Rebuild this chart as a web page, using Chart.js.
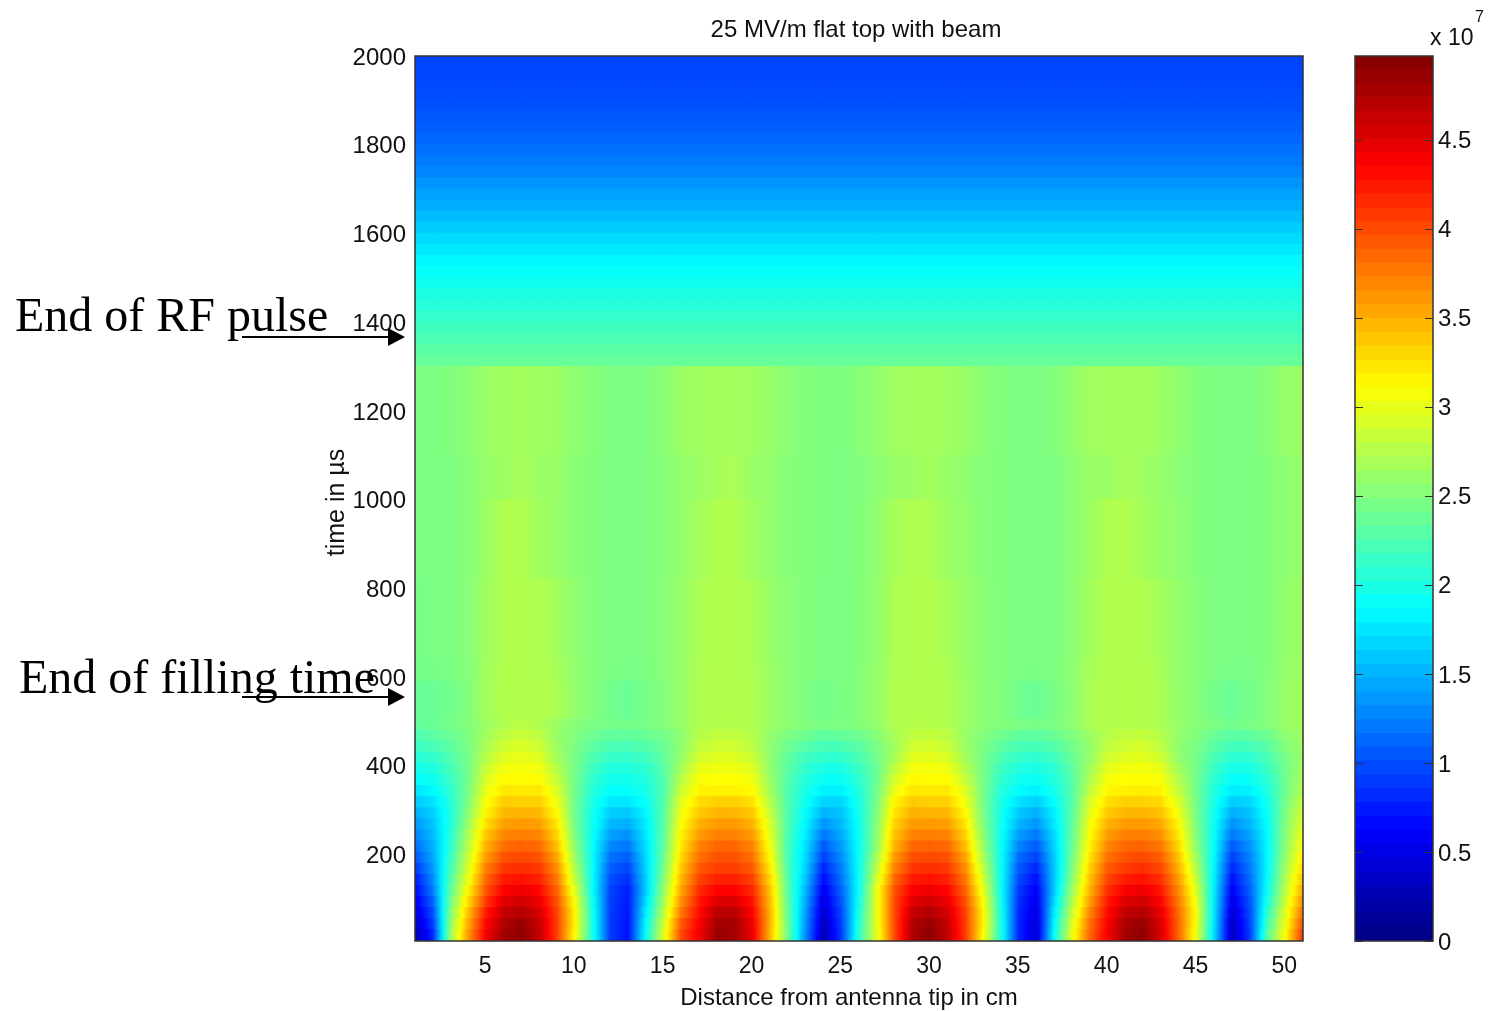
<!DOCTYPE html>
<html>
<head>
<meta charset="utf-8">
<title>25 MV/m flat top with beam</title>
<script src="https://cdn.jsdelivr.net/npm/chart.js@4"></script>
<style>
html,body{margin:0;padding:0;background:#fff;width:1488px;height:1011px;overflow:hidden}
canvas{position:absolute;top:0}
#main{left:0}
#bar{left:1340px}
.note{position:absolute;font-family:"Liberation Serif",serif;font-size:48px;line-height:50px;color:#000;white-space:nowrap}
.exp{position:absolute;font-family:"Liberation Sans",sans-serif;color:#111;white-space:nowrap}
svg{position:absolute;left:0;top:0}
</style>
</head>
<body>
<canvas id="main" width="1340" height="1011"></canvas>
<canvas id="bar" width="148" height="1011"></canvas>
<div class="note" style="left:15px;top:290px">End of RF pulse</div>
<div class="note" style="left:19px;top:652px">End of filling time</div>
<div class="exp" style="left:1430px;top:24px;font-size:23px">x 10</div>
<div class="exp" style="left:1475px;top:8px;font-size:16px">7</div>
<svg width="430" height="1011">
  <line x1="242" y1="337" x2="392" y2="337" stroke="#000" stroke-width="2"/>
  <polygon points="388,328 405,337 388,346" fill="#000"/>
  <line x1="242" y1="697" x2="392" y2="697" stroke="#000" stroke-width="2"/>
  <polygon points="388,688 405,697 388,706" fill="#000"/>
</svg>
<script>
const chartTitle = "25 MV/m flat top with beam";
const xTitle = "Distance from antenna tip in cm";
const yTitle = "time in \u00b5s";
const xTickValues = [5,10,15,20,25,30,35,40,45,50];
const yTickValues = [200,400,600,800,1000,1200,1400,1600,1800,2000];
const barTickValues = [0,.5,1,1.5,2,2.5,3,3.5,4,4.5];
const distances = [1,2,3,4,5,6,7,8,9,10,11,12,13,14,15,16,17,18,19,20,21,22,23,24,25,26,27,28,29,30,31,32,33,34,35,36,37,38,39,40,41,42,43,44,45,46,47,48,49,50,51];
const lowTimeEdges = [5,30,55,80,105,130,155,180,205,230,255,280,305,330,355,380,405,430,455,480,505];
const midTimeEdges = [505,590,640,820,1000,1100,1300];
const topTimeEdges = [1300,1325,1350,1375,1400,1425,1450,1475,1500,1525,1550,1575,1600,1625,1650,1675,1700,1725,1750,1775,1800,1825,1850,1875,1900,1925,1950,1975,2000];
const colorLevels = [0,.078,.155,.233,.311,.388,.466,.544,.621,.699,.777,.854,.932,1.010,1.087,1.165,1.243,1.320,1.398,1.476,1.553,1.631,1.709,1.786,1.864,1.942,2.019,2.097,2.175,2.252,2.330,2.408,2.485,2.563,2.640,2.718,2.796,2.873,2.951,3.029,3.106,3.184,3.262,3.339,3.417,3.495,3.572,3.650,3.728,3.805,3.883,3.961,4.038,4.116,4.194,4.271,4.349,4.427,4.504,4.582,4.660,4.737,4.815,4.893,4.970];

// field (units of 1e7) at each distance, one list per cm, for the 20 rows below 505 us
const lowField = [
[.25,.33,.42,.52,.62,.72,.88,1.02,1.15,1.25,1.36,1.47,1.6,1.75,1.88,1.96,2.05,2.14,2.24,2.34],
[.8,.9,1.0,1.1,1.22,1.3,1.37,1.43,1.48,1.53,1.58,1.63,1.72,1.83,1.92,2.0,2.1,2.2,2.3,2.38],
[2.6,2.55,2.48,2.4,2.32,2.27,2.2,2.14,2.08,2.05,2.02,2.02,2.05,2.09,2.14,2.2,2.26,2.32,2.38,2.44],
[3.6,3.52,3.42,3.28,3.15,3.03,2.93,2.85,2.77,2.7,2.62,2.55,2.49,2.45,2.43,2.43,2.44,2.46,2.48,2.5],
[4.4,4.33,4.22,4.08,3.95,3.84,3.73,3.6,3.49,3.38,3.26,3.15,3.08,3.0,2.92,2.84,2.76,2.7,2.65,2.62],
[4.8,4.74,4.63,4.5,4.36,4.23,4.09,3.95,3.82,3.7,3.58,3.46,3.35,3.22,3.13,3.05,2.96,2.87,2.79,2.72],
[4.9,4.85,4.72,4.58,4.43,4.27,4.13,4.0,3.87,3.73,3.6,3.47,3.33,3.2,3.12,3.06,3.0,2.93,2.85,2.77],
[4.65,4.62,4.55,4.45,4.33,4.2,4.08,3.95,3.83,3.71,3.58,3.46,3.34,3.22,3.12,3.04,2.95,2.86,2.79,2.72],
[4.05,4.05,4.02,3.95,3.86,3.76,3.65,3.54,3.42,3.32,3.22,3.12,3.02,2.93,2.83,2.74,2.66,2.62,2.6,2.62],
[3.1,3.15,3.14,3.06,2.95,2.82,2.72,2.62,2.55,2.47,2.43,2.41,2.41,2.42,2.43,2.44,2.45,2.47,2.5,2.52],
[2.0,2.0,1.98,1.95,1.9,1.9,1.9,1.9,1.9,1.92,1.95,1.96,2.0,2.04,2.1,2.16,2.24,2.32,2.4,2.47],
[.9,.9,.92,.93,.95,1.0,1.08,1.17,1.28,1.4,1.52,1.62,1.75,1.88,1.95,2.02,2.12,2.22,2.34,2.44],
[.7,.7,.72,.74,.76,.85,.95,1.08,1.2,1.33,1.47,1.6,1.75,1.88,1.95,2.02,2.12,2.22,2.33,2.43],
[1.9,1.85,1.78,1.7,1.62,1.63,1.66,1.68,1.72,1.75,1.78,1.83,1.9,1.97,2.02,2.08,2.17,2.27,2.37,2.45],
[2.95,2.88,2.78,2.68,2.6,2.52,2.45,2.4,2.35,2.33,2.31,2.3,2.28,2.26,2.27,2.3,2.34,2.38,2.44,2.5],
[4.0,3.92,3.78,3.66,3.55,3.46,3.38,3.3,3.23,3.17,3.11,3.04,2.96,2.85,2.77,2.68,2.6,2.56,2.56,2.6],
[4.4,4.36,4.3,4.23,4.14,4.02,3.91,3.8,3.7,3.59,3.48,3.37,3.27,3.16,3.08,2.99,2.89,2.81,2.75,2.72],
[4.85,4.8,4.68,4.52,4.35,4.2,4.05,3.95,3.85,3.72,3.6,3.46,3.33,3.17,3.1,3.03,2.95,2.87,2.8,2.74],
[4.8,4.78,4.68,4.52,4.35,4.2,4.05,3.95,3.85,3.72,3.6,3.46,3.33,3.17,3.1,3.03,2.95,2.87,2.8,2.74],
[4.45,4.42,4.35,4.26,4.16,4.03,3.91,3.8,3.7,3.59,3.48,3.37,3.25,3.12,3.04,2.95,2.85,2.78,2.74,2.72],
[3.45,3.48,3.47,3.43,3.38,3.3,3.2,3.11,3.04,2.97,2.9,2.82,2.74,2.66,2.61,2.57,2.56,2.56,2.58,2.62],
[2.4,2.38,2.35,2.32,2.3,2.26,2.23,2.2,2.2,2.22,2.24,2.25,2.25,2.25,2.27,2.3,2.34,2.4,2.47,2.54],
[1.3,1.34,1.38,1.44,1.5,1.57,1.63,1.68,1.72,1.77,1.82,1.87,1.93,1.98,2.03,2.1,2.17,2.28,2.4,2.5],
[.25,.3,.38,.46,.55,.66,.78,.93,1.05,1.2,1.35,1.5,1.65,1.8,1.9,1.98,2.1,2.2,2.33,2.46],
[.9,.93,.97,1.03,1.1,1.17,1.23,1.3,1.38,1.45,1.52,1.57,1.67,1.8,1.9,1.98,2.1,2.22,2.35,2.47],
[2.1,2.05,2.0,1.95,1.9,1.9,1.9,1.9,1.9,1.92,1.93,1.95,1.98,2.02,2.08,2.15,2.22,2.3,2.4,2.5],
[2.95,2.98,3.0,3.0,3.0,2.88,2.78,2.68,2.58,2.55,2.52,2.48,2.45,2.41,2.38,2.38,2.42,2.46,2.52,2.58],
[4.0,4.0,4.0,3.98,3.95,3.84,3.72,3.6,3.47,3.4,3.32,3.23,3.14,3.0,2.9,2.8,2.68,2.65,2.68,2.72],
[4.75,4.71,4.62,4.5,4.37,4.23,4.09,3.96,3.84,3.72,3.6,3.49,3.37,3.23,3.14,3.05,2.96,2.87,2.8,2.74],
[4.9,4.85,4.72,4.58,4.43,4.27,4.13,4.0,3.87,3.73,3.6,3.47,3.33,3.2,3.12,3.06,2.98,2.9,2.82,2.75],
[4.65,4.62,4.55,4.45,4.33,4.2,4.08,3.95,3.83,3.71,3.58,3.46,3.34,3.22,3.12,3.03,2.93,2.84,2.78,2.72],
[4.05,4.05,4.02,3.95,3.86,3.76,3.65,3.54,3.42,3.32,3.22,3.12,3.02,2.93,2.83,2.74,2.66,2.62,2.6,2.62],
[3.1,3.15,3.14,3.08,2.98,2.88,2.78,2.69,2.61,2.54,2.49,2.46,2.45,2.45,2.45,2.45,2.45,2.47,2.5,2.54],
[2.0,2.0,1.98,1.95,1.93,1.92,1.92,1.92,1.92,1.93,1.95,1.97,2.0,2.04,2.1,2.16,2.24,2.32,2.4,2.5],
[.8,.8,.82,.85,.9,.97,1.05,1.15,1.27,1.38,1.5,1.6,1.73,1.86,1.94,2.02,2.12,2.22,2.34,2.47],
[.4,.42,.46,.52,.58,.68,.8,.93,1.05,1.2,1.35,1.48,1.63,1.8,1.9,1.98,2.08,2.2,2.32,2.44],
[1.9,1.85,1.78,1.7,1.62,1.6,1.6,1.62,1.66,1.7,1.75,1.8,1.88,1.96,2.02,2.08,2.17,2.27,2.37,2.47],
[3.0,2.92,2.82,2.72,2.62,2.54,2.47,2.42,2.38,2.35,2.32,2.3,2.27,2.27,2.28,2.32,2.37,2.42,2.48,2.55],
[3.85,3.8,3.7,3.58,3.48,3.4,3.32,3.24,3.16,3.1,3.05,2.97,2.9,2.8,2.72,2.65,2.59,2.58,2.62,2.7],
[4.4,4.36,4.3,4.23,4.13,4.02,3.91,3.8,3.7,3.59,3.48,3.37,3.26,3.15,3.07,2.98,2.88,2.81,2.76,2.74],
[4.8,4.76,4.66,4.52,4.37,4.22,4.07,3.95,3.85,3.72,3.6,3.46,3.33,3.17,3.1,3.03,2.95,2.87,2.8,2.74],
[4.9,4.85,4.72,4.58,4.43,4.27,4.13,4.0,3.87,3.73,3.6,3.47,3.33,3.2,3.12,3.06,2.98,2.9,2.82,2.74],
[4.55,4.52,4.45,4.34,4.24,4.12,4.0,3.88,3.76,3.65,3.53,3.41,3.29,3.16,3.07,2.98,2.87,2.79,2.74,2.7],
[3.85,3.85,3.82,3.75,3.68,3.59,3.49,3.4,3.3,3.21,3.13,3.03,2.93,2.82,2.74,2.65,2.58,2.56,2.58,2.6],
[3.0,3.04,3.05,3.0,2.92,2.82,2.72,2.63,2.55,2.5,2.47,2.44,2.43,2.42,2.42,2.43,2.44,2.46,2.49,2.52],
[1.7,1.72,1.74,1.76,1.78,1.8,1.82,1.85,1.87,1.9,1.92,1.94,1.98,2.02,2.08,2.14,2.22,2.3,2.38,2.47],
[.3,.34,.42,.5,.58,.68,.8,.92,1.05,1.2,1.33,1.47,1.62,1.78,1.88,1.97,2.07,2.18,2.3,2.42],
[.9,.93,.97,1.02,1.08,1.15,1.2,1.26,1.33,1.42,1.5,1.57,1.67,1.8,1.9,1.98,2.08,2.2,2.33,2.46],
[2.3,2.2,2.1,2.0,1.92,1.88,1.85,1.85,1.85,1.86,1.88,1.92,1.96,2.02,2.08,2.15,2.22,2.3,2.4,2.5],
[3.1,3.02,2.95,2.85,2.78,2.72,2.65,2.6,2.55,2.52,2.5,2.47,2.43,2.4,2.4,2.42,2.45,2.5,2.55,2.6],
[4.1,3.98,3.82,3.68,3.55,3.42,3.3,3.2,3.12,3.05,2.97,2.9,2.82,2.75,2.7,2.65,2.62,2.62,2.64,2.66]
];
// one list per time band between 505 and 1300 us
const midField = [
[2.36,2.38,2.42,2.50,2.66,2.73,2.73,2.73,2.70,2.58,2.50,2.42,2.38,2.45,2.50,2.60,2.72,2.74,2.74,2.72,2.62,2.54,2.48,2.42,2.47,2.50,2.60,2.72,2.74,2.74,2.72,2.62,2.54,2.50,2.42,2.38,2.45,2.55,2.70,2.74,2.74,2.74,2.70,2.58,2.52,2.43,2.38,2.44,2.50,2.60,2.66],
[2.42,2.44,2.47,2.51,2.65,2.73,2.73,2.72,2.68,2.57,2.50,2.47,2.45,2.48,2.52,2.60,2.71,2.73,2.73,2.71,2.61,2.54,2.50,2.47,2.48,2.50,2.59,2.71,2.73,2.73,2.70,2.61,2.54,2.50,2.47,2.46,2.48,2.55,2.68,2.73,2.73,2.73,2.68,2.58,2.52,2.48,2.45,2.46,2.50,2.59,2.64],
[2.44,2.46,2.48,2.52,2.64,2.72,2.73,2.72,2.66,2.56,2.50,2.47,2.46,2.48,2.52,2.60,2.70,2.73,2.73,2.70,2.60,2.54,2.50,2.47,2.47,2.50,2.58,2.70,2.73,2.73,2.68,2.60,2.54,2.50,2.47,2.47,2.48,2.54,2.66,2.73,2.73,2.72,2.66,2.58,2.52,2.48,2.47,2.47,2.50,2.58,2.62],
[2.46,2.47,2.48,2.52,2.62,2.72,2.72,2.64,2.60,2.54,2.50,2.47,2.47,2.48,2.52,2.58,2.66,2.72,2.72,2.64,2.58,2.52,2.50,2.48,2.47,2.50,2.56,2.68,2.72,2.70,2.62,2.58,2.52,2.50,2.47,2.47,2.48,2.54,2.62,2.72,2.72,2.66,2.60,2.56,2.50,2.48,2.47,2.47,2.50,2.56,2.60],
[2.46,2.47,2.48,2.52,2.60,2.62,2.68,2.62,2.60,2.54,2.50,2.47,2.47,2.48,2.52,2.58,2.62,2.66,2.70,2.60,2.58,2.52,2.50,2.48,2.47,2.50,2.54,2.60,2.62,2.66,2.60,2.56,2.52,2.50,2.47,2.47,2.48,2.54,2.60,2.62,2.68,2.64,2.58,2.54,2.50,2.48,2.47,2.47,2.50,2.56,2.60],
[2.46,2.47,2.50,2.54,2.62,2.64,2.66,2.64,2.62,2.56,2.52,2.48,2.47,2.48,2.54,2.62,2.64,2.66,2.66,2.64,2.60,2.54,2.50,2.48,2.48,2.52,2.58,2.64,2.66,2.66,2.64,2.60,2.54,2.50,2.47,2.47,2.50,2.58,2.64,2.66,2.66,2.66,2.62,2.56,2.50,2.48,2.47,2.48,2.52,2.60,2.62]
];
// uniform decay after the RF pulse, one value per time band above 1300 us
const topField = [2.36,2.3,2.23,2.17,2.11,2.05,2.0,1.94,1.89,1.83,1.76,1.69,1.62,1.54,1.47,1.41,1.34,1.28,1.22,1.17,1.12,1.08,1.05,1.01,.99,.97,.96,.95];

const colorMax = 4.97;
function jet(v){
  const t = Math.min(1, Math.max(0, v / colorMax));
  const c = k => Math.round(255 * Math.min(1, Math.max(0, 1.5 - Math.abs(4 * t - k))));
  return `rgb(${c(3)},${c(2)},${c(1)})`;
}
function cellFill(ctx){
  const r = ctx.raw;
  if (!r || r.a === undefined) return '#000';
  if (r.a === r.b) return jet(r.a);
  const xs = ctx.chart.scales.x;
  const x0 = xs ? xs.getPixelForValue(r.x - .5) : NaN, x1 = xs ? xs.getPixelForValue(r.x + .5) : NaN;
  if (!Number.isFinite(x0) || !Number.isFinite(x1)) return jet(r.a);
  const g = ctx.chart.ctx.createLinearGradient(x0, 0, x1, 0);
  for (let k = 0; k <= 6; k++) g.addColorStop(k / 6, jet(r.a + (r.b - r.a) * k / 6));
  return g;
}
function rowDataset(t0, t1, values){
  const data = [];
  for (let i = 0; i < distances.length - 1; i++) {
    const a = Array.isArray(values) ? values[i] : values;
    const b = Array.isArray(values) ? values[i + 1] : values;
    data.push({x: distances[i] + .5, y: [t0, t1], a, b});
  }
  return {data, backgroundColor: cellFill, borderWidth: 0, inflateAmount: .6, barPercentage: 1, categoryPercentage: 1, grouped: false};
}
const datasets = [];
for (let r = 0; r < lowTimeEdges.length - 1; r++)
  datasets.push(rowDataset(lowTimeEdges[r], lowTimeEdges[r + 1], lowField.map(col => col[r])));
for (let r = 0; r < midTimeEdges.length - 1; r++)
  datasets.push(rowDataset(midTimeEdges[r], midTimeEdges[r + 1], midField[r]));
for (let r = 0; r < topTimeEdges.length - 1; r++)
  datasets.push(rowDataset(topTimeEdges[r], topTimeEdges[r + 1], topField[r]));

const sans = '"Liberation Sans", Arial, sans-serif';
const ink = '#111';
const plainLabel = v => String(v);
function nudge(obj, method, dx, dy){
  const orig = obj[method];
  obj[method] = function(){
    const c = this.ctx;
    c.save(); c.translate(dx, dy); orig.apply(this, arguments); c.restore();
  };
}
const framePlugin = {
  id: 'frame',
  afterDatasetsDraw(chart){
    const {ctx, chartArea: a} = chart;
    ctx.save();
    ctx.strokeStyle = '#333';
    ctx.lineWidth = 1.5;
    ctx.strokeRect(a.left, a.top, a.right - a.left, a.bottom - a.top);
    ctx.restore();
  }
};
const nudgePlugin = {
  id: 'nudge',
  afterLayout(chart){
    if (chart.$nudged) return;
    chart.$nudged = true;
    nudge(chart.scales.x, 'drawTitle', -10, 2);
    nudge(chart.scales.y, 'drawTitle', 0, 4);
    nudge(chart.titleBlock, 'draw', -3, 1);
  }
};
new Chart(document.getElementById('main'), {
  type: 'bar',
  data: {datasets},
  plugins: [framePlugin, nudgePlugin],
  options: {
    responsive: false, animation: false, events: [],
    layout: {padding: {left: 322, right: 37, top: 15, bottom: 0}},
    plugins: {
      legend: {display: false}, tooltip: {enabled: false},
      title: {display: true, text: chartTitle, fullSize: false, color: ink, font: {family: sans, size: 24, weight: 'normal'}, padding: {top: 0, bottom: 12.2}}
    },
    scales: {
      x: {
        type: 'linear', min: 1, max: 51, offset: false,
        afterFit: s => { s.height = 70; },
        afterBuildTicks: s => { s.ticks = xTickValues.map(value => ({value})); },
        grid: {display: false, drawTicks: false}, border: {display: false},
        ticks: {autoSkip: false, maxRotation: 0, labelOffset: -1, color: ink, padding: 12, font: {family: sans, size: 23}, callback: plainLabel},
        title: {display: true, text: xTitle, color: ink, padding: {top: 0, bottom: 0}, font: {family: sans, size: 24}}
      },
      y: {
        type: 'linear', min: 5, max: 2000,
        afterFit: s => { s.width = 93; },
        afterBuildTicks: s => { s.ticks = yTickValues.map(value => ({value})); },
        grid: {display: false, drawTicks: false}, border: {display: false},
        ticks: {autoSkip: false, labelOffset: 2, color: ink, padding: 9, font: {family: sans, size: 24}, callback: plainLabel},
        title: {display: true, text: yTitle, color: ink, padding: {top: 0, bottom: 0}, font: {family: sans, size: 25}}
      }
    }
  }
});

const barSets = [];
for (let i = 0; i < colorLevels.length - 1; i++) {
  barSets.push({
    data: [[colorLevels[i], colorLevels[i + 1]]],
    backgroundColor: jet((colorLevels[i] + colorLevels[i + 1]) / 2),
    borderWidth: 0, inflateAmount: .6, barPercentage: 1, categoryPercentage: 1, grouped: false
  });
}
const barTicks = {
  id: 'barTicks',
  afterDatasetsDraw(chart){
    const {ctx, chartArea: a, scales} = chart;
    ctx.save();
    ctx.strokeStyle = '#333';
    ctx.lineWidth = 1;
    ctx.beginPath();
    scales.y.ticks.forEach(t => {
      const y = Math.round(scales.y.getPixelForValue(t.value)) + .5;
      ctx.moveTo(a.left, y); ctx.lineTo(a.left + 8, y);
      ctx.moveTo(a.right, y); ctx.lineTo(a.right - 8, y);
    });
    ctx.stroke();
    ctx.restore();
  }
};
new Chart(document.getElementById('bar'), {
  type: 'bar',
  data: {labels: ['field'], datasets: barSets},
  plugins: [framePlugin, barTicks],
  options: {
    responsive: false, animation: false, events: [],
    layout: {padding: {left: 15, right: 0, top: 56, bottom: 70}},
    plugins: {legend: {display: false}, tooltip: {enabled: false}, title: {display: false}},
    scales: {
      x: {type: 'category', display: false},
      y: {
        type: 'linear', position: 'right', min: 0, max: colorMax,
        afterFit: s => { s.width = 55; },
        afterBuildTicks: s => { s.ticks = barTickValues.map(value => ({value})); },
        grid: {display: false, drawTicks: false}, border: {display: false},
        ticks: {autoSkip: false, labelOffset: 2, color: ink, padding: 5, font: {family: sans, size: 24}, callback: plainLabel}
      }
    }
  }
});
</script>
</body>
</html>
